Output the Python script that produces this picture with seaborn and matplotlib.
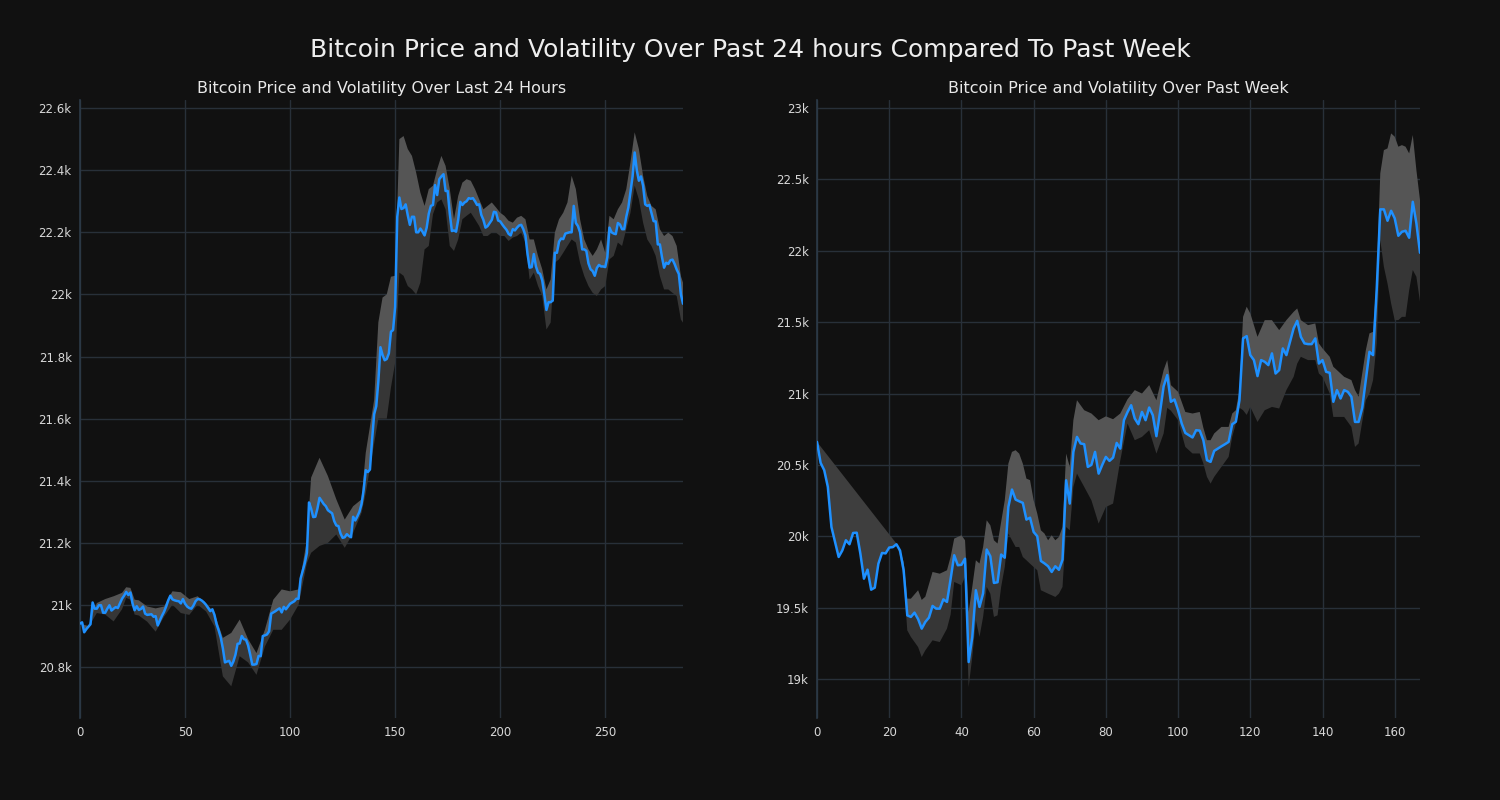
import numpy as np
import matplotlib
matplotlib.use("Agg")
import matplotlib.pyplot as plt
import seaborn as sns
from matplotlib.ticker import FuncFormatter, MultipleLocator

# ---------------- data ----------------
suptitle = "Bitcoin Price and Volatility Over Past 24 hours Compared To Past Week"
title_day = "Bitcoin Price and Volatility Over Last 24 Hours"
title_week = "Bitcoin Price and Volatility Over Past Week"

day_price = [
    20940, 20944, 20912, 20922, 20930, 20938, 21008, 20988, 20988, 20999,
    20999, 20975, 20975, 20988, 20999, 20982, 20988, 20993, 20990, 21005,
    21020, 21030, 21042, 21032, 21040, 21005, 20983, 20996, 20984, 20987,
    20995, 20972, 20968, 20969, 20970, 20962, 20964, 20934, 20950, 20965,
    20978, 20995, 21015, 21030, 21018, 21015, 21013, 21012, 21005, 21019,
    21004, 20995, 20990, 20988, 20998, 21012, 21019, 21018, 21014, 21008,
    21000, 20990, 20980, 20986, 20968, 20938, 20918, 20895, 20860, 20815,
    20818, 20820, 20804, 20818, 20840, 20875, 20876, 20900, 20890, 20888,
    20870, 20840, 20808, 20808, 20810, 20836, 20835, 20900, 20902, 20905,
    20915, 20972, 20976, 20980, 20985, 20989, 20976, 20994, 20986, 20995,
    21004, 21008, 21012, 21020, 21020, 21085, 21110, 21135, 21168, 21330,
    21310, 21283, 21284, 21310, 21345, 21335, 21325, 21318, 21305, 21300,
    21295, 21270, 21256, 21254, 21230, 21216, 21218, 21228, 21222, 21218,
    21284, 21272, 21285, 21300, 21325, 21370, 21434, 21428, 21436, 21530,
    21614, 21640, 21720, 21830, 21805, 21788, 21792, 21810, 21880, 21885,
    21960, 22250, 22312, 22275, 22278, 22290, 22255, 22224, 22250, 22250,
    22200, 22200, 22212, 22202, 22190, 22215, 22260, 22285, 22288, 22352,
    22320, 22371, 22380, 22387, 22333, 22333, 22260, 22204, 22206, 22202,
    22240, 22298, 22288, 22296, 22300, 22310, 22308, 22310, 22300, 22288,
    22290, 22256, 22240, 22215, 22220, 22230, 22240, 22266, 22264, 22238,
    22235, 22225, 22216, 22208, 22195, 22190, 22210, 22206, 22215, 22222,
    22224, 22210, 22190, 22130, 22086, 22088, 22130, 22090, 22070, 22066,
    22045, 22000, 21950, 21975, 21975, 21980, 22134, 22134, 22170, 22180,
    22178, 22196, 22198, 22200, 22200, 22285, 22230, 22220, 22200, 22145,
    22145, 22140, 22100, 22081, 22075, 22060, 22085, 22095, 22090, 22090,
    22088, 22120, 22215, 22200, 22196, 22194, 22230, 22225, 22210, 22210,
    22250, 22280, 22330, 22380, 22457, 22400, 22366, 22380, 22350, 22290,
    22285, 22288, 22262, 22236, 22235, 22161, 22161, 22120, 22086, 22102,
    22098, 22110, 22112, 22098, 22080, 22066, 22000, 21970,
]

day_band_x = [0, 4, 8, 12, 16, 20, 22, 24, 26, 28, 32, 36, 40, 44, 48, 52, 56,
              60, 64, 68, 72, 76, 80, 84, 88, 92, 96, 100, 104, 108, 110, 114,
              118, 122, 126, 130, 134, 136, 140, 142, 144, 146, 148, 150, 152,
              154, 156, 158, 160, 162, 164, 166, 168, 170, 172, 174, 176, 178,
              180, 182, 184, 186, 188, 190, 192, 194, 196, 198, 200, 202, 204,
              206, 208, 210, 212, 214, 216, 218, 220, 222, 224, 226, 228, 230,
              232, 234, 236, 238, 240, 242, 244, 246, 248, 250, 252, 254, 256,
              258, 260, 262, 264, 266, 268, 270, 272, 274, 276, 278, 280, 282,
              284, 286, 287]
day_band_hi = [20940, 20932, 21006, 21019, 21028, 21039, 21057, 21055, 21017,
               21015, 20995, 20989, 20995, 21044, 21041, 21019, 21028, 21006,
               20974, 20894, 20910, 20953, 20890, 20845, 20920, 21017, 21050,
               21044, 21050, 21210, 21410, 21474, 21415, 21340, 21275, 21318,
               21340, 21490, 21660, 21910, 21990, 22000, 22057, 22060, 22500,
               22510, 22468, 22446, 22392, 22328, 22285, 22339, 22350, 22403,
               22446, 22414, 22339, 22242, 22317, 22360, 22371, 22366, 22339,
               22306, 22274, 22285, 22296, 22280, 22263, 22253, 22237, 22231,
               22247, 22253, 22242, 22177, 22177, 22124, 22081, 22016, 22048,
               22199, 22242, 22263, 22296, 22382, 22339, 22242, 22177, 22145,
               22124, 22145, 22177, 22134, 22253, 22242, 22274, 22296, 22339,
               22425, 22522, 22468, 22382, 22317, 22285, 22274, 22210, 22188,
               22199, 22188, 22156, 22059, 22038]
day_band_lo = [20940, 20928, 20974, 20969, 20947, 20986, 21023, 21017, 20969,
               20966, 20946, 20914, 20962, 21001, 20974, 20968, 21001, 20979,
               20931, 20770, 20738, 20835, 20815, 20775, 20866, 20920, 20920,
               20953, 21000, 21135, 21168, 21190, 21200, 21227, 21184, 21232,
               21297, 21360, 21520, 21600, 21600, 21600, 21700, 21780, 22070,
               22060, 22027, 22016, 22000, 22038, 22145, 22156, 22258, 22296,
               22306, 22274, 22156, 22140, 22177, 22242, 22253, 22263, 22242,
               22220, 22188, 22188, 22199, 22199, 22188, 22188, 22172, 22183,
               22188, 22199, 22167, 22048, 22070, 22027, 21995, 21887, 21909,
               22102, 22113, 22134, 22156, 22177, 22167, 22102, 22059, 22027,
               22005, 21995, 22016, 22027, 22113, 22124, 22167, 22156, 22210,
               22263, 22350, 22306, 22231, 22177, 22156, 22124, 22059, 22016,
               22016, 22005, 21995, 21919, 21909]

week_price = [
    20661, 20514, 20463, 20346, 20065, 19960, 19855, 19900, 19972, 19944,
    20023, 20025, 19880, 19703, 19766, 19626, 19640, 19808, 19883, 19880,
    19921, 19924, 19944, 19900, 19762, 19446, 19435, 19465, 19420, 19353,
    19400, 19430, 19512, 19493, 19493, 19558, 19540, 19700, 19867, 19797,
    19800, 19843, 19119, 19294, 19622, 19505, 19600, 19907, 19860, 19673,
    19678, 19872, 19850, 20206, 20327, 20257, 20245, 20234, 20117, 20130,
    20030, 20000, 19827, 19810, 19790, 19750, 19790, 19765, 19836, 20392,
    20229, 20591, 20696, 20650, 20645, 20486, 20500, 20591, 20439, 20500,
    20556, 20528, 20551, 20654, 20614, 20813, 20870, 20918, 20825, 20785,
    20871, 20813, 20902, 20848, 20701, 20870, 21050, 21129, 20942, 20958,
    20883, 20790, 20724, 20708, 20692, 20743, 20740, 20673, 20533, 20521,
    20598, 20614, 20630, 20645, 20661, 20785, 20802, 20953, 21386, 21402,
    21269, 21234, 21122, 21234, 21222, 21199, 21281, 21140, 21164, 21316,
    21269, 21362, 21456, 21509, 21397, 21351, 21346, 21346, 21386, 21210,
    21234, 21152, 21145, 20942, 21024, 20965, 21024, 21012, 20977, 20801,
    20801, 20900, 21094, 21292, 21269, 21724, 22290, 22290, 22210, 22280,
    22227, 22105, 22133, 22140, 22091, 22343, 22192, 21986,
]

week_band_x = [0, 22, 23, 24, 25, 26, 28, 29, 30, 32, 34, 36, 37, 38, 40, 41,
               42, 43, 44, 45, 46, 47, 48, 49, 50, 51, 52, 53, 54, 55, 56, 57,
               58, 59, 60, 61, 62, 63, 64, 65, 66, 67, 68, 69, 70, 71, 72, 74,
               76, 78, 80, 82, 84, 86, 88, 90, 92, 94, 96, 97, 98, 100, 102,
               104, 106, 107, 108, 109, 110, 112, 114, 115, 116, 117, 118, 119,
               120, 122, 124, 126, 128, 130, 132, 133, 134, 136, 138, 139, 140,
               142, 143, 144, 146, 148, 149, 150, 152, 153, 154, 155, 156, 157,
               158, 159, 160, 161, 162, 163, 164, 165, 166, 167]
week_band_hi = [20661, 19949, 19902, 19820, 19563, 19563, 19622, 19554, 19577,
                19750, 19738, 19762, 19855, 19984, 20007, 19972, 19470, 19645,
                19832, 19809, 19925, 20112, 20077, 19972, 19949, 20100, 20252,
                20509, 20591, 20603, 20579, 20509, 20404, 20393, 20252, 20159,
                20042, 20019, 19972, 20007, 19972, 19995, 20065, 20579, 20486,
                20813, 20953, 20883, 20860, 20813, 20840, 20820, 20860, 20960,
                21024, 21000, 21059, 20953, 21164, 21234, 21059, 21012, 20871,
                20860, 20871, 20760, 20673, 20673, 20720, 20766, 20766, 20860,
                20883, 21024, 21537, 21608, 21561, 21397, 21514, 21514, 21444,
                21514, 21572, 21596, 21514, 21479, 21491, 21351, 21316, 21257,
                21187, 21164, 21117, 21094, 21024, 20977, 21304, 21421, 21432,
                21800, 22542, 22705, 22717, 22822, 22799, 22729, 22740, 22729,
                22682, 22811, 22565, 22355]
week_band_lo = [20661, 19944, 19860, 19700, 19341, 19295, 19224, 19154, 19201,
                19271, 19259, 19353, 19451, 19680, 19657, 19715, 18944, 19154,
                19411, 19295, 19435, 19645, 19598, 19435, 19446, 19645, 19785,
                20019, 19972, 19925, 19925, 19855, 19832, 19808, 19785, 19762,
                19622, 19610, 19598, 19587, 19575, 19598, 19645, 20065, 20042,
                20345, 20439, 20346, 20252, 20089, 20205, 20229, 20532, 20790,
                20673, 20696, 20743, 20579, 20720, 20900, 20880, 20813, 20626,
                20580, 20580, 20510, 20416, 20369, 20416, 20486, 20556, 20697,
                20790, 20900, 20883, 20850, 20906, 20801, 20883, 20906, 20895,
                21024, 21117, 21210, 21257, 21234, 21234, 21140, 21117, 21000,
                20836, 20836, 20836, 20766, 20626, 20650, 20953, 21000, 21094,
                21351, 22075, 21888, 21771, 21631, 21514, 21514, 21537, 21537,
                21724, 21865, 21818, 21643]

day_yticks = [20800, 21000, 21200, 21400, 21600, 21800, 22000, 22200, 22400, 22600]
week_yticks = [19000, 19500, 20000, 20500, 21000, 21500, 22000, 22500, 23000]

# ---------------- style ----------------
BG = "#111111"
GRID = "#283039"
LINE = "#1e90ff"
LIGHT = "#555555"
MID = "#3e3e3e"
DARK = "#363636"
TXT = "#d8d8d8"

sns.set_theme(style="dark", rc={
    "axes.facecolor": BG, "figure.facecolor": BG,
    "axes.edgecolor": "#2c3a48", "grid.color": GRID,
    "text.color": TXT, "xtick.color": TXT, "ytick.color": TXT,
    "axes.labelcolor": TXT,
})
plt.rcParams["font.family"] = ["DejaVu Sans"]

fig = plt.figure(figsize=(15, 8), dpi=100)
ax1 = fig.add_axes([80 / 1500, 82 / 800, 603 / 1500, 618 / 800])
ax2 = fig.add_axes([817 / 1500, 82 / 800, 603 / 1500, 618 / 800])

kfmt = FuncFormatter(lambda v, p: f"{v / 1000:g}k")


def draw(ax, price, bx, bhi, blo, title, xlim, ylim, yticks, xstep):
    price = np.asarray(price, dtype=float)
    x = np.arange(len(price))
    bx = np.asarray(bx)
    bhi = np.asarray(bhi, dtype=float)
    blo = np.asarray(blo, dtype=float)
    # where the band skips hours (gap between first two band samples),
    # draw that stretch in a mid tone
    gap = bx[1] - bx[0] > 8
    if gap:
        g = bx[1]
        ax.fill(np.r_[x[:g + 1], bx[1::-1]], np.r_[price[:g + 1], bhi[1::-1]],
                color=MID, lw=0, zorder=1)
        px, pp = x[g:], price[g:]
        bx, bhi, blo = bx[1:], bhi[1:], blo[1:]
    else:
        px, pp = x, price
    ax.fill(np.r_[px, bx[::-1]], np.r_[pp, blo[::-1]], color=DARK, lw=0, zorder=1)
    ax.fill(np.r_[px, bx[::-1]], np.r_[pp, bhi[::-1]], color=LIGHT, lw=0, zorder=2)
    sns.lineplot(x=x, y=price, ax=ax, color=LINE, linewidth=1.8, zorder=3)
    ax.set_xlim(*xlim)
    ax.set_ylim(*ylim)
    ax.set_yticks(yticks)
    ax.yaxis.set_major_formatter(kfmt)
    ax.xaxis.set_major_locator(MultipleLocator(xstep))
    ax.grid(True, color=GRID, linewidth=1.0)
    ax.set_axisbelow(True)
    for s in ["top", "right", "bottom"]:
        ax.spines[s].set_visible(False)
    ax.spines["left"].set_color("#2c3a48")
    ax.spines["left"].set_linewidth(1.2)
    ax.tick_params(axis="both", length=0, pad=6, labelsize=8.5, colors=TXT)
    ax.set_xlabel("")
    ax.set_ylabel("")
    ax.set_title(title, fontsize=11.5, color="#e8e8e8", pad=5)


draw(ax1, day_price, day_band_x, day_band_hi, day_band_lo, title_day,
     (0, 287), (20636, 22626), day_yticks, 50)
draw(ax2, week_price, week_band_x, week_band_hi, week_band_lo, title_week,
     (0, 167), (18727, 23056), week_yticks, 20)

fig.suptitle(suptitle, fontsize=18, color="#eeeeee", y=0.9375, va="center")

fig.savefig("out.png", dpi=100, facecolor=BG)
